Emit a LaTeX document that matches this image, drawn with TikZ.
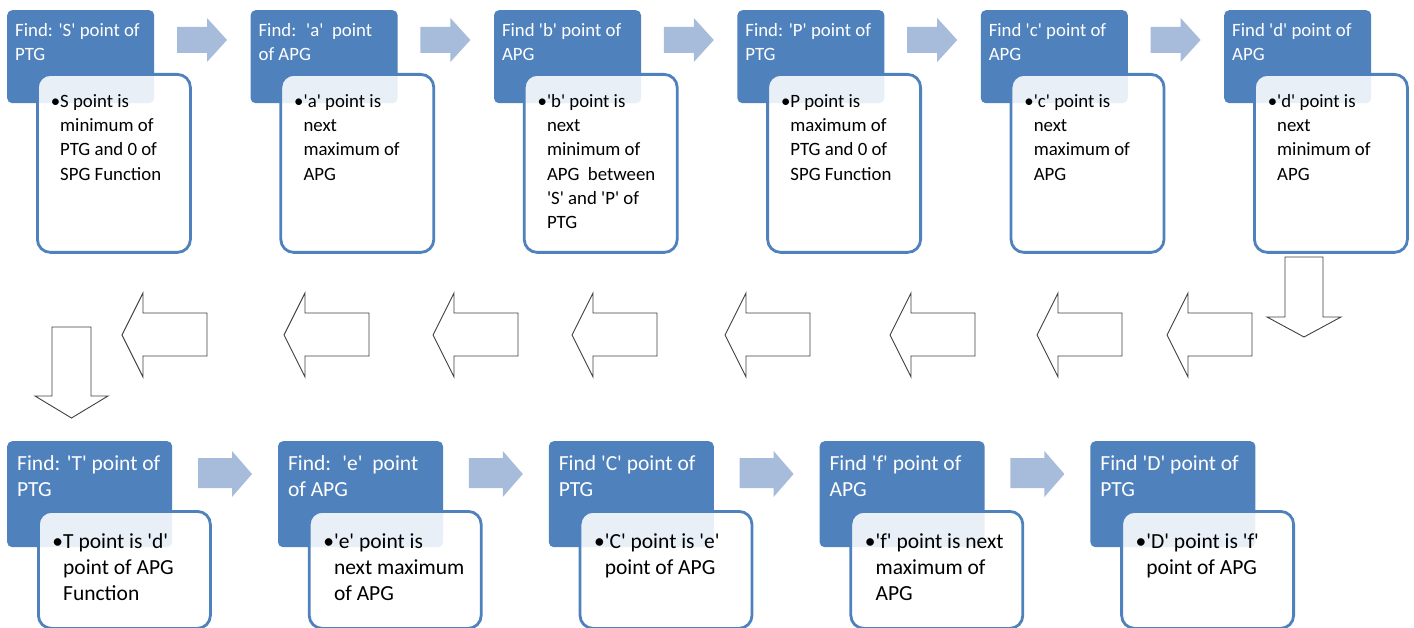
\documentclass[tikz,border=0pt]{standalone}
\usepackage{fontspec}
\newfontfamily\calfont{Carlito}
\newcommand\toprowfont{\calfont\fontsize{18.8}{24.3}\selectfont}
\newcommand\botrowfont{\calfont\fontsize{21.5}{26}\selectfont}
\definecolor{hdrblue}{RGB}{79,129,189}
\definecolor{flowblue}{RGB}{167,187,218}
\tikzset{
  hdr/.style={fill=hdrblue,rounded corners=5pt,inner sep=0pt,anchor=north west},
  note/.style={fill=white,fill opacity=0.88,draw=hdrblue,line width=2.8pt,rounded corners=13pt,inner sep=0pt,anchor=north west},
  hdrtext/.style={text=white,align=left,inner sep=0pt,anchor=north west},
  notetext/.style={text=black,align=left,inner sep=0pt,anchor=north west},
  flow/.style={fill=flowblue},
  turn/.style={draw=black!75,fill=white,line width=0.9pt,line join=miter},
}
\begin{document}
\begin{tikzpicture}[x=1pt,y=-1pt,line join=round]
  \useasboundingbox (0,0) rectangle (1414,628);
  % first row of steps
  \foreach \i/\hd/\bd in {
    1/{Find: 'S' point of\\PTG}/{S point is\\minimum of\\PTG and 0 of\\SPG Function},
    2/{Find:~ 'a'~ point\\of APG}/{'a' point is\\next\\maximum of\\APG},
    3/{Find 'b' point of\\APG}/{'b' point is\\next\\minimum of\\APG~ between\\'S' and 'P' of\\PTG},
    4/{Find: 'P' point of\\PTG}/{P point is\\maximum of\\PTG and 0 of\\SPG Function},
    5/{Find 'c' point of\\APG}/{'c' point is\\next\\maximum of\\APG},
    6/{Find 'd' point of\\APG}/{'d' point is\\next\\minimum of\\APG}}{
    \pgfmathsetmacro\x{7+243.4*(\i-1)}
    \node[hdr,minimum width=147pt,minimum height=93pt] (h\i) at (\x,10) {};
    \node[hdrtext,font=\toprowfont] (ht\i) at ([shift={(8,9)}]h\i.north west) {\strut\hd};
    \node[note,minimum width=153pt,minimum height=178pt] (n\i) at (\x+29,73) {};
    \node[notetext,font=\toprowfont] (nt\i) at ([shift={(24,17)}]n\i.north west) {\strut\llap{\textbullet}\bd};
  }
  \foreach \i in {1,...,5}{
    \pgfmathsetmacro\ax{177+243.4*(\i-1)}
    \fill[flow] (\ax,27) -- (\ax+30,27) -- (\ax+30,18) -- (\ax+50,40) -- (\ax+30,62) -- (\ax+30,53) -- (\ax,53) -- cycle;
  }
  % turning back
  \draw[turn] (1285,257) -- (1323,257) -- (1323,317) -- (1341,317) -- (1304,337) -- (1267,317) -- (1285,317) -- cycle;
  \foreach \t in {122,284,433,572,725,890,1037,1167}
    \draw[turn] (\t,335) -- (\t+21,293) -- (\t+21,313) -- (\t+85,313) -- (\t+85,356) -- (\t+21,356) -- (\t+21,377) -- cycle;
  \draw[turn] (52,327) -- (91,327) -- (91,396) -- (108,396) -- (71.5,418) -- (35,396) -- (52,396) -- cycle;
  % second row of steps
  \foreach \i/\hd/\bd in {
    1/{Find: 'T' point of\\PTG}/{T point is 'd'\\point of APG\\Function},
    2/{Find:~ 'e'~ point\\of APG}/{'e' point is\\next maximum\\of APG},
    3/{Find 'C' point of\\PTG}/{'C' point is 'e'\\point of APG},
    4/{Find 'f' point of\\APG}/{'f' point is next\\maximum of\\APG},
    5/{Find 'D' point of\\PTG}/{'D' point is 'f'\\point of APG}}{
    \pgfmathsetmacro\x{7+270.8*(\i-1)}
    \node[hdr,minimum width=165pt,minimum height=106pt] (g\i) at (\x,441) {};
    \node[hdrtext,font=\botrowfont] (gt\i) at ([shift={(10,10.8)}]g\i.north west) {\strut\hd};
    \node[note,minimum width=172pt,minimum height=117pt] (m\i) at (\x+30,510) {};
    \node[notetext,font=\botrowfont] (mt\i) at ([shift={(26,19.8)}]m\i.north west) {\strut\llap{\textbullet}\bd};
  }
  \foreach \i in {1,...,4}{
    \pgfmathsetmacro\ax{198+270.8*(\i-1)}
    \fill[flow] (\ax,458) -- (\ax+34,458) -- (\ax+34,451) -- (\ax+54,474) -- (\ax+34,497) -- (\ax+34,488) -- (\ax,488) -- cycle;
  }
\end{tikzpicture}
\end{document}
